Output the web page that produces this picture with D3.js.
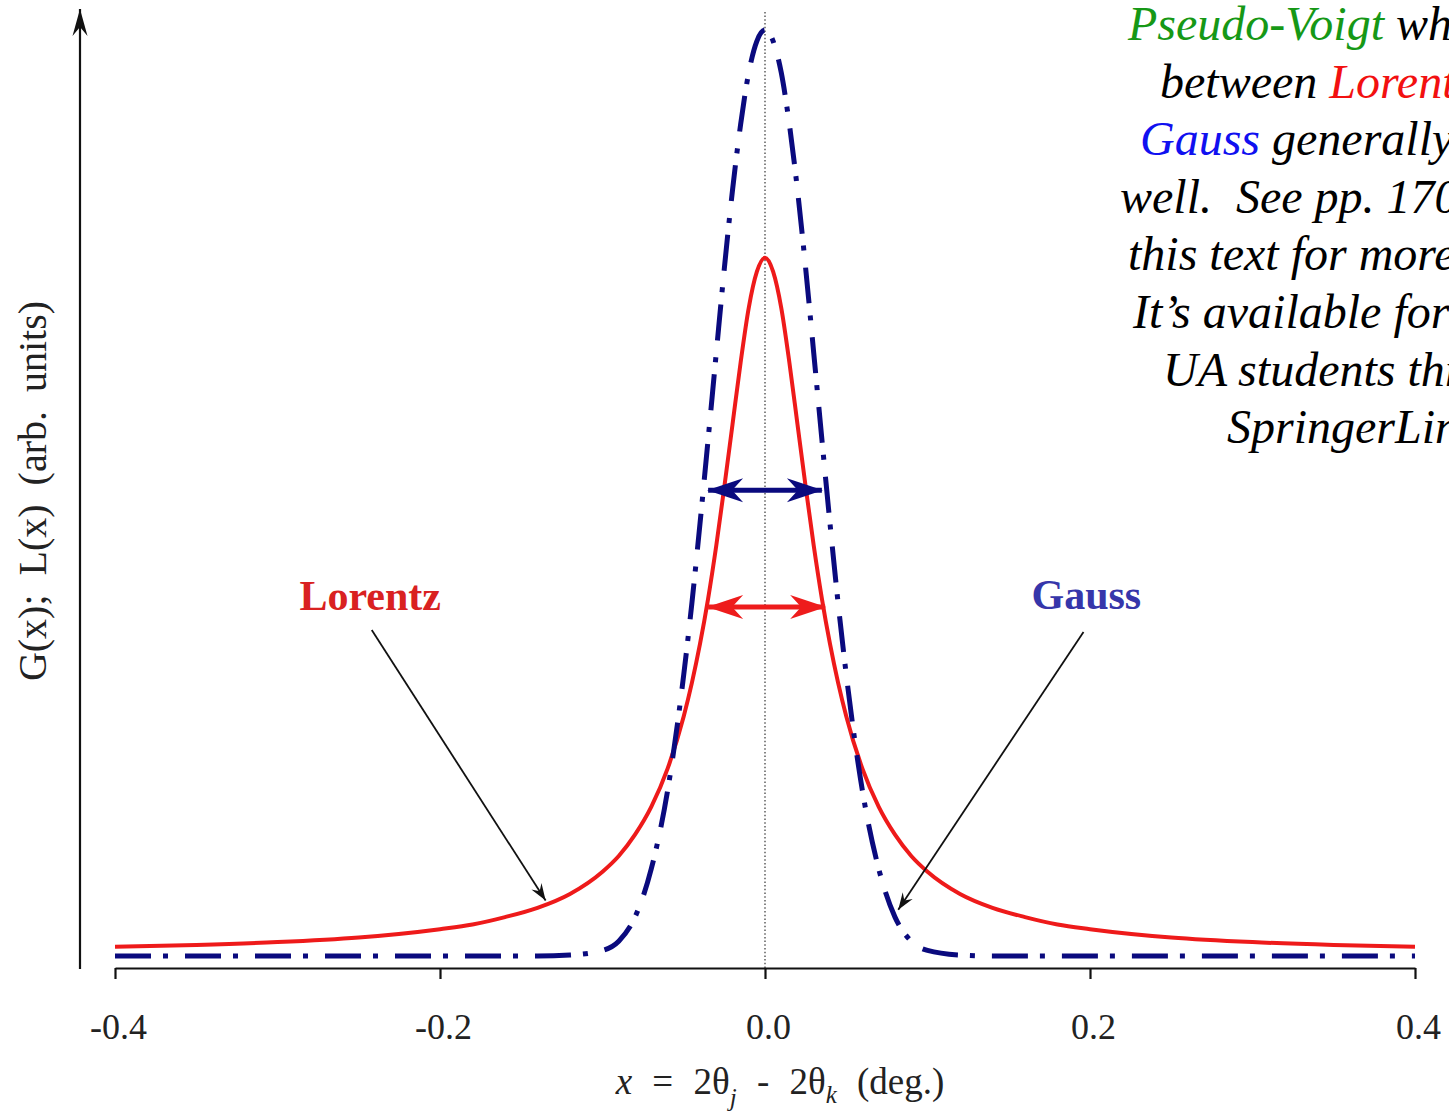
<!DOCTYPE html>
<html lang="en">
<head>
<meta charset="UTF-8">
<title>Lorentz and Gauss peak shapes</title>
<script src="https://d3js.org/d3.v7.min.js"></script>
<style>
    body { margin: 0; background: #fff; }
    svg { display: block; }
    text { font-family: "Liberation Serif", "Times New Roman", serif; }
</style>
</head>
<body>
<svg width="1449" height="1112"></svg>
<script>
// x = 2theta_j - 2theta_k (deg.), heights (Gauss peak = 1)
const xValues = [-0.40, -0.35, -0.30, -0.25, -0.20, -0.18, -0.16, -0.14, -0.12, -0.10,
    -0.09, -0.08, -0.07, -0.06, -0.05, -0.045, -0.04, -0.035, -0.03, -0.025, -0.02, -0.015, -0.01, -0.005,
    0, 0.005, 0.01, 0.015, 0.02, 0.025, 0.03, 0.035, 0.04, 0.045, 0.05, 0.06, 0.07, 0.08, 0.09,
    0.10, 0.12, 0.14, 0.16, 0.18, 0.20, 0.25, 0.30, 0.35, 0.40];
const gaussValues = [0, 0, 0, 0, 0, 0, 0, 0, 0.001, 0.006,
    0.016, 0.042, 0.094, 0.178, 0.304, 0.381, 0.467, 0.558, 0.651, 0.743, 0.827, 0.898, 0.954, 0.988,
    1.000, 0.988, 0.954, 0.898, 0.827, 0.743, 0.651, 0.558, 0.467, 0.381, 0.304, 0.178, 0.094, 0.042, 0.016,
    0.006, 0.001, 0, 0, 0, 0, 0, 0, 0, 0];
const lorentzValues = [0.010, 0.012, 0.015, 0.020, 0.029, 0.034, 0.042, 0.052, 0.067, 0.091,
    0.108, 0.131, 0.161, 0.202, 0.259, 0.295, 0.337, 0.386, 0.443, 0.507, 0.574, 0.641, 0.700, 0.739,
    0.754, 0.739, 0.700, 0.641, 0.574, 0.507, 0.443, 0.386, 0.337, 0.295, 0.259, 0.202, 0.161, 0.131, 0.108,
    0.091, 0.067, 0.052, 0.042, 0.034, 0.029, 0.020, 0.015, 0.012, 0.010];
const tickValues = [-0.4, -0.2, 0, 0.2, 0.4];

// full width at half maximum of each curve
const fwhmLevels = [0.503, 0.377];
const fwhmLeft = [-0.035, -0.035];
const fwhmRight = [0.035, 0.037];
const fwhmColors = ["#0a0a7e", "#ee1c1c"];

const noteLines = [
    [["Pseudo-Voigt", "#169816"], [" which is a mix", "#000"]],
    [["between ", "#000"], ["Lorentz", "#f21010"], [" and", "#000"]],
    [["Gauss", "#1010f0"], [" generally works", "#000"]],
    [["well.  See pp. 170-171 of", "#000"]],
    [["this text for more details.", "#000"]],
    [["It\u2019s available for free to", "#000"]],
    [["UA students through", "#000"]],
    [["SpringerLink.", "#000"]]
];
const noteStartX = [1128, 1160, 1140, 1120, 1128, 1133, 1163, 1227];

const svg = d3.select("svg");
const x = d3.scaleLinear().domain([-0.4, 0.4]).range([115, 1415]);
const y = d3.scaleLinear().domain([0, 1]).range([956, 30]);
const axisY = 968;

const defs = svg.append("defs");
function head(id, path, color) {
    defs.append("marker")
        .attr("id", id)
        .attr("markerUnits", "userSpaceOnUse")
        .attr("viewBox", "-40 -15 42 30")
        .attr("markerWidth", 42).attr("markerHeight", 30)
        .attr("refX", 0).attr("refY", 0)
        .attr("orient", "auto-start-reverse")
        .append("path").attr("d", path).attr("fill", color);
}
head("axisHead", "M0,0L-27,-7.5L-18,0L-27,7.5Z", "#111");
head("blueHead", "M1,0L-35,-12L-24,0L-35,12Z", fwhmColors[0]);
head("redHead", "M1,0L-35,-12L-24,0L-35,12Z", fwhmColors[1]);
head("thinHead", "M0,0L-17,-6L-11,0L-17,6Z", "#111");

// centre line
svg.append("line")
    .attr("x1", x(0)).attr("x2", x(0))
    .attr("y1", axisY).attr("y2", 10)
    .attr("stroke", "#444").attr("stroke-width", 1.3)
    .attr("stroke-dasharray", "1.5 2.2");

// vertical axis with arrow
svg.append("line")
    .attr("x1", 80).attr("x2", 80)
    .attr("y1", axisY + 1).attr("y2", 9)
    .attr("stroke", "#111").attr("stroke-width", 2.2)
    .attr("marker-end", "url(#axisHead)");

// x axis
const xAxis = svg.append("g")
    .attr("transform", `translate(0,${axisY})`)
    .call(d3.axisBottom(x)
        .tickValues(tickValues)
        .tickFormat(d => d.toFixed(1))
        .tickSize(11)
        .tickSizeOuter(0)
        .tickPadding(60));
xAxis.select(".domain").attr("stroke", "#111").attr("stroke-width", 2.2);
xAxis.selectAll(".tick line").attr("stroke", "#111").attr("stroke-width", 2.2);
xAxis.selectAll(".tick text")
    .attr("font-family", "Liberation Serif, serif")
    .attr("font-size", 36)
    .attr("fill", "#222")
    .attr("dy", "0")
    .attr("dx", 3);

// curves
const points = xValues.map((v, i) => ({ x: v, g: gaussValues[i], l: lorentzValues[i] }));
const lorentzLine = d3.line().x(d => x(d.x)).y(d => y(d.l)).curve(d3.curveMonotoneX);
const gaussLine = d3.line().x(d => x(d.x)).y(d => y(d.g)).curve(d3.curveMonotoneX);

svg.append("path")
    .datum(points)
    .attr("d", lorentzLine)
    .attr("fill", "none")
    .attr("stroke", "#ee1a1a")
    .attr("stroke-width", 4);

svg.append("path")
    .datum(points)
    .attr("d", gaussLine)
    .attr("fill", "none")
    .attr("stroke", "#0a0a7e")
    .attr("stroke-width", 5)
    .attr("stroke-dasharray", "36 12 5 17");

// FWHM double arrows
svg.selectAll(".fwhm")
    .data(fwhmLevels)
    .enter().append("line")
    .attr("class", "fwhm")
    .attr("x1", (d, i) => x(fwhmLeft[i]))
    .attr("x2", (d, i) => x(fwhmRight[i]))
    .attr("y1", d => y(d)).attr("y2", d => y(d))
    .attr("stroke", (d, i) => fwhmColors[i])
    .attr("stroke-width", 5)
    .attr("marker-start", (d, i) => i === 0 ? "url(#blueHead)" : "url(#redHead)")
    .attr("marker-end", (d, i) => i === 0 ? "url(#blueHead)" : "url(#redHead)");

// curve labels with pointer arrows
const labels = [
    { text: "Lorentz", color: "#d92121", tx: -0.2865, ty: 0.374, from: [-0.242, 0.352], to: [-0.135, 0.060] },
    { text: "Gauss", color: "#3636aa", tx: 0.164, ty: 0.375, from: [0.196, 0.350], to: [0.082, 0.050] }
];
labels.forEach(d => {
    svg.append("text")
        .attr("x", x(d.tx)).attr("y", y(d.ty))
        .attr("font-size", 42)
        .attr("font-weight", "bold")
        .attr("fill", d.color)
        .text(d.text);
    svg.append("line")
        .attr("x1", x(d.from[0])).attr("y1", y(d.from[1]))
        .attr("x2", x(d.to[0])).attr("y2", y(d.to[1]))
        .attr("stroke", "#111").attr("stroke-width", 1.8)
        .attr("marker-end", "url(#thinHead)");
});

// axis titles
const xTitle = svg.append("text")
    .attr("x", 780).attr("y", 1094)
    .attr("text-anchor", "middle")
    .attr("font-size", 37)
    .attr("fill", "#222")
    .style("word-spacing", "11px");
xTitle.append("tspan").attr("font-style", "italic").text("x");
xTitle.append("tspan").text(" = 2\u03b8");
xTitle.append("tspan").attr("font-style", "italic").attr("font-size", 25).attr("dy", 12).text("j");
xTitle.append("tspan").attr("dy", -12).text(" - 2\u03b8");
xTitle.append("tspan").attr("font-style", "italic").attr("font-size", 25).attr("dy", 9).text("k");
xTitle.append("tspan").attr("dy", -9).text(" (deg.)");

svg.append("text")
    .attr("transform", "translate(46,491) rotate(-90)")
    .attr("text-anchor", "middle")
    .attr("font-size", 40)
    .attr("fill", "#222")
    .style("word-spacing", "9px")
    .text("G(x); L(x) (arb. units)");

// note in the top right corner
const note = svg.append("g").attr("font-style", "italic").attr("font-size", 48);
noteLines.forEach((line, i) => {
    const t = note.append("text")
        .attr("x", noteStartX[i])
        .attr("y", 40 + i * 57.6)
        .style("white-space", "pre");
    line.forEach(seg => t.append("tspan").attr("fill", seg[1]).text(seg[0]));
});
</script>
</body>
</html>
